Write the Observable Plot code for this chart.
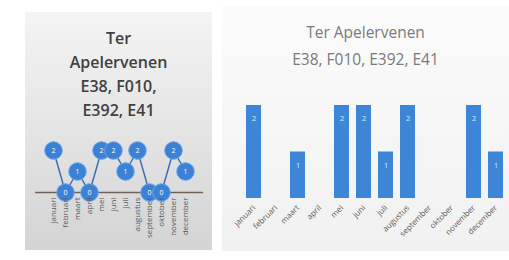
<!DOCTYPE html>
<html><head><meta charset="utf-8">
<script src="https://cdn.jsdelivr.net/npm/d3@7"></script>
<script src="https://cdn.jsdelivr.net/npm/@observablehq/plot@0.6"></script>
<style>
body{margin:0;background:#fff;width:509px;height:260px;overflow:hidden;position:relative;font-family:"Open Sans",sans-serif}
#left{position:absolute;left:25px;top:12px;width:187px;height:238px;background:linear-gradient(#f4f4f4,#d4d4d4)}
#right{position:absolute;left:222px;top:6px;width:287px;height:245px;background:linear-gradient(#fbfbfb,#f1f1f1)}
.t1{position:absolute;left:0;top:14px;width:100%;text-align:center;font-size:16px;font-weight:600;line-height:24px;color:#404040}
.t2{position:absolute;left:0;top:13px;width:100%;text-align:center;font-size:15.5px;line-height:27px;color:#7a7a7a}
#left svg,#right svg{position:absolute;left:0;top:0}
</style>
</head><body>
<div id="left"><div class="t1">Ter<br>Apelervenen<br>E38, F010,<br>E392, E41</div></div>
<div id="right"><div class="t2">Ter Apelervenen<br>E38, F010, E392, E41</div></div>
<script>
const months = ["januari","februari","maart","april","mei","juni","juli","augustus","september","oktober","november","december"];
const values = [2,0,1,0,2,2,1,2,0,0,2,1];
const data = months.map((m,i)=>({month:m,value:values[i]}));

const left = Plot.plot({
  width:187,height:238,marginLeft:10,marginRight:9,marginTop:0,marginBottom:58,
  style:{background:"transparent",fontFamily:"Open Sans",overflow:"visible"},
  x:{type:"point",domain:months,range:[18,170]},
  y:{domain:[0,2],range:[180,138],axis:null},
  marks:[
    Plot.ruleY([0],{stroke:"#6e6259",strokeWidth:1.5}),
    Plot.line(data,{x:"month",y:"value",stroke:"#3f6fae",strokeWidth:1.5}),
    Plot.dot(data,{x:"month",y:"value",r:8.8,fill:"#3b82d6",stroke:"#6aa6e8",strokeWidth:1}),
    Plot.text(data,{x:"month",y:"value",text:"value",fill:"#ffffff",fontSize:7}),
    Plot.axisX({tickRotate:-90,tickSize:0,tickPadding:5,fontSize:8,fill:"#595959",label:null})
  ]
});
document.getElementById("left").appendChild(left);

const right = Plot.plot({
  width:287,height:245,marginLeft:0,marginRight:0,marginTop:0,marginBottom:53,
  style:{background:"transparent",fontFamily:"Open Sans",overflow:"visible"},
  x:{type:"band",domain:months,range:[17.3,286.7],paddingInner:0.33,paddingOuter:0.165},
  y:{domain:[0,2],range:[192,99],axis:null},
  marks:[
    Plot.barY(data,{x:"month",y:"value",fill:"#3d85d6"}),
    Plot.text(data.filter(d=>d.value>0),{x:"month",y:"value",text:"value",dy:13,fill:"#d6e6f7",fontSize:8}),
    Plot.axisX({tickRotate:-45,tickSize:0,tickPadding:8,fontSize:8,fill:"#595959",label:null})
  ]
});
document.getElementById("right").appendChild(right);
</script>
</body></html>
